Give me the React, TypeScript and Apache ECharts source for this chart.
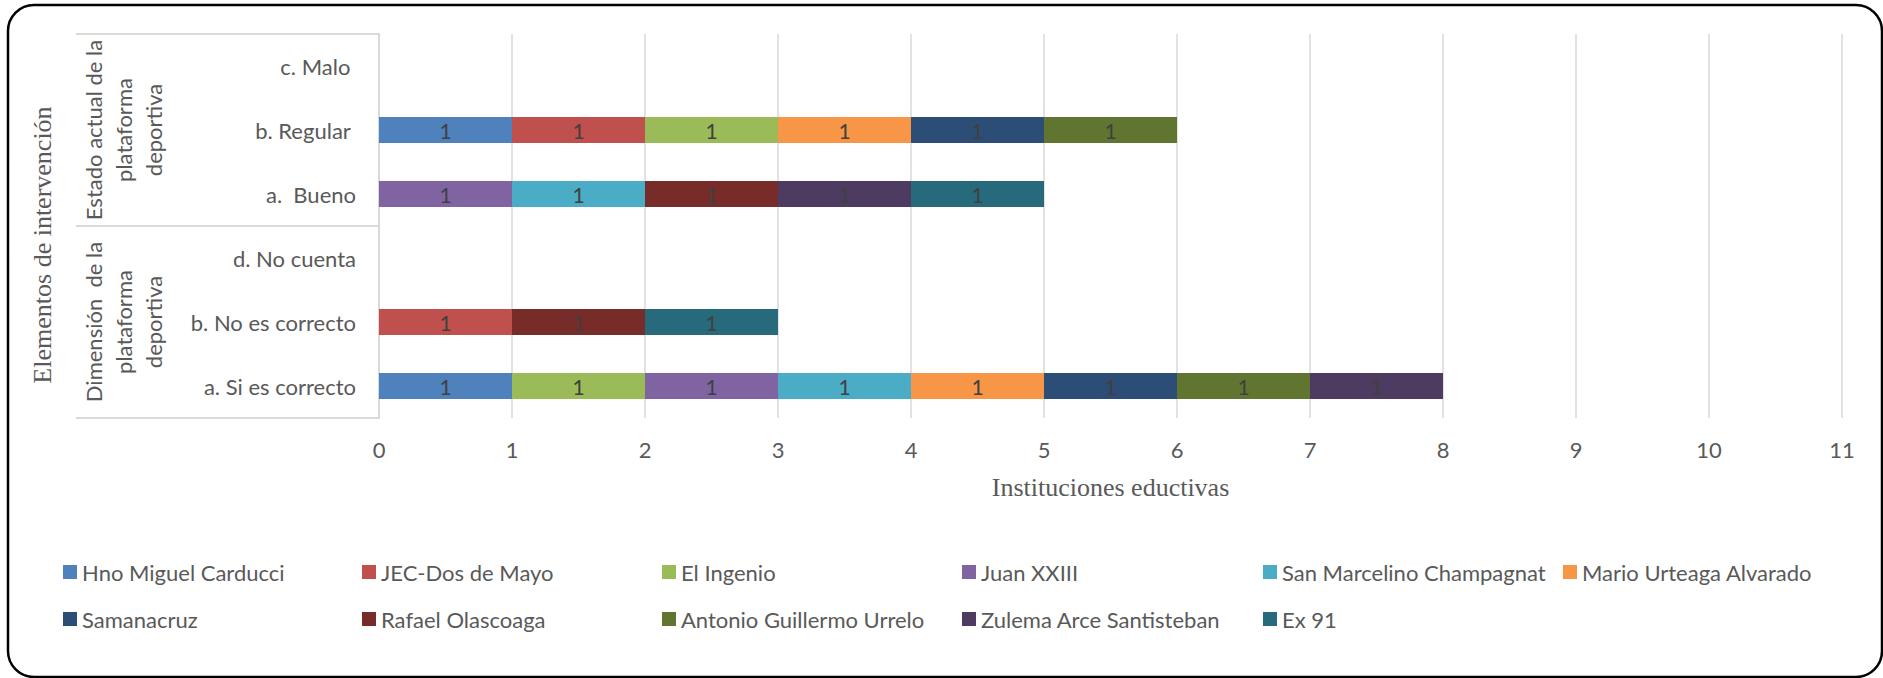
import React, { useEffect, useRef } from "react";
import * as echarts from "echarts";

const categories = ["a. Si es correcto", "b. No es correcto", "d. No cuenta", "a.  Bueno", "b. Regular ", "c. Malo "];
const seriesNames = [
  "Hno Miguel Carducci",
  "JEC-Dos de Mayo",
  "El Ingenio",
  "Juan XXIII",
  "San Marcelino Champagnat",
  "Mario Urteaga Alvarado",
  "Samanacruz",
  "Rafael Olascoaga",
  "Antonio Guillermo Urrelo",
  "Zulema Arce Santisteban",
  "Ex 91",
];
const hnoMiguel = [1, null, null, null, 1, null];
const jecDosDeMayo = [null, 1, null, null, 1, null];
const elIngenio = [1, null, null, null, 1, null];
const juanXXIII = [1, null, null, 1, null, null];
const sanMarcelino = [1, null, null, 1, null, null];
const marioUrteaga = [1, null, null, null, 1, null];
const samanacruz = [1, null, null, null, 1, null];
const rafaelOlascoaga = [null, 1, null, 1, null, null];
const antonioGuillermo = [1, null, null, null, 1, null];
const zulemaArce = [1, null, null, 1, null, null];
const ex91 = [null, 1, null, 1, null, null];
const seriesValues = [
  hnoMiguel, jecDosDeMayo, elIngenio, juanXXIII, sanMarcelino, marioUrteaga,
  samanacruz, rafaelOlascoaga, antonioGuillermo, zulemaArce, ex91,
];
const colors = [
  "#4F81BD", "#C0504D", "#9BBB59", "#8064A2", "#4BACC6", "#F79646",
  "#2C4D75", "#772C2A", "#5F7530", "#4D3B62", "#276A7C",
];
const groupLabels = ["Dimensión  de la\nplataforma\ndeportiva", "Estado actual de la\nplataforma\ndeportiva"];
const xTitle = "Instituciones eductivas";
const yTitle = "Elementos de intervención";
const xMax = 11;

const W = 1883;
const H = 678;
const GRID_LEFT = 379;
const GRID_RIGHT = 41;
const GRID_TOP = 34;
const GRID_BOTTOM = 260;
const SANS = "Lato, 'Noto Sans', sans-serif";
const SERIF = "'Liberation Serif', 'DejaVu Serif', serif";
const GREY = "#595959";
const LINE = "#D9D9D9";

export default function App() {
  const ref = useRef<HTMLDivElement>(null);
  useEffect(() => {
    if (!ref.current) return;
    const chart = echarts.init(ref.current, null, { renderer: "svg" });
    const plotBottom = H - GRID_BOTTOM;
    const plotMid = (GRID_TOP + plotBottom) / 2;
    const legendCols = [63, 362, 662, 962, 1263, 1563];
    const legendRows = [561, 608];
    const legends = seriesNames.map((name, i) => ({
      data: [name],
      left: legendCols[i % 6],
      top: legendRows[Math.floor(i / 6)],
      icon: "rect",
      itemWidth: 14,
      itemHeight: 14,
      padding: 0,
      selectedMode: false,
      textStyle: { fontFamily: SANS, fontSize: 22, color: GREY },
    }));
    chart.setOption({
      animation: false,
      color: colors,
      grid: { left: GRID_LEFT, right: GRID_RIGHT, top: GRID_TOP, bottom: GRID_BOTTOM, containLabel: false },
      legend: legends,
      xAxis: {
        type: "value",
        min: 0,
        max: xMax,
        interval: 1,
        axisLine: { show: false },
        axisTick: { show: false },
        splitLine: { show: true, lineStyle: { color: LINE, width: 1.5 } },
        axisLabel: { fontFamily: SANS, fontSize: 22, color: GREY, margin: 20 },
        name: xTitle,
        nameLocation: "middle",
        nameGap: 56,
        nameTextStyle: { fontFamily: SERIF, fontSize: 26, color: GREY },
      },
      yAxis: {
        type: "category",
        data: categories,
        axisLine: { show: true, lineStyle: { color: LINE, width: 2 } },
        axisTick: { show: false },
        splitLine: { show: false },
        axisLabel: { fontFamily: SANS, fontSize: 22, color: GREY, margin: 23 },
      },
      series: seriesNames.map((name, i) => ({
        name,
        type: "bar",
        stack: "total",
        barWidth: 26,
        data: seriesValues[i],
        itemStyle: { color: colors[i] },
        label: {
          show: true,
          position: "inside",
          fontFamily: SANS,
          fontSize: 21,
          color: "#404040",
          formatter: (p: any) => (p.value == null ? "" : String(p.value)),
        },
      })),
      graphic: [
        {
          type: "rect",
          silent: true,
          shape: { x: 8, y: 5, width: 1874, height: 672, r: 26 },
          style: { fill: "none", stroke: "#000", lineWidth: 2.5 },
        },
        {
          type: "line",
          silent: true,
          shape: { x1: 76, y1: GRID_TOP, x2: GRID_LEFT, y2: GRID_TOP },
          style: { stroke: LINE, lineWidth: 2 },
        },
        {
          type: "line",
          silent: true,
          shape: { x1: 76, y1: plotMid, x2: GRID_LEFT, y2: plotMid },
          style: { stroke: LINE, lineWidth: 2 },
        },
        {
          type: "line",
          silent: true,
          shape: { x1: 76, y1: plotBottom, x2: GRID_LEFT, y2: plotBottom },
          style: { stroke: LINE, lineWidth: 2 },
        },
        {
          type: "text",
          silent: true,
          x: 123,
          y: (plotMid + plotBottom) / 2,
          rotation: Math.PI / 2,
          style: {
            text: groupLabels[0],
            fontFamily: SANS,
            fontSize: 22,
            lineHeight: 30,
            fill: GREY,
            align: "center",
            verticalAlign: "middle",
          },
        },
        {
          type: "text",
          silent: true,
          x: 123,
          y: (GRID_TOP + plotMid) / 2,
          rotation: Math.PI / 2,
          style: {
            text: groupLabels[1],
            fontFamily: SANS,
            fontSize: 22,
            lineHeight: 30,
            fill: GREY,
            align: "center",
            verticalAlign: "middle",
          },
        },
        {
          type: "text",
          silent: true,
          x: 42,
          y: 245,
          rotation: Math.PI / 2,
          style: {
            text: yTitle,
            fontFamily: SERIF,
            fontSize: 26,
            fill: GREY,
            align: "center",
            verticalAlign: "middle",
          },
        },
      ],
    });
    return () => chart.dispose();
  }, []);
  return (
    <div
      ref={ref}
      style={{ position: "absolute", left: 0, top: 0, width: W, height: H, background: "#fff" }}
    />
  );
}
